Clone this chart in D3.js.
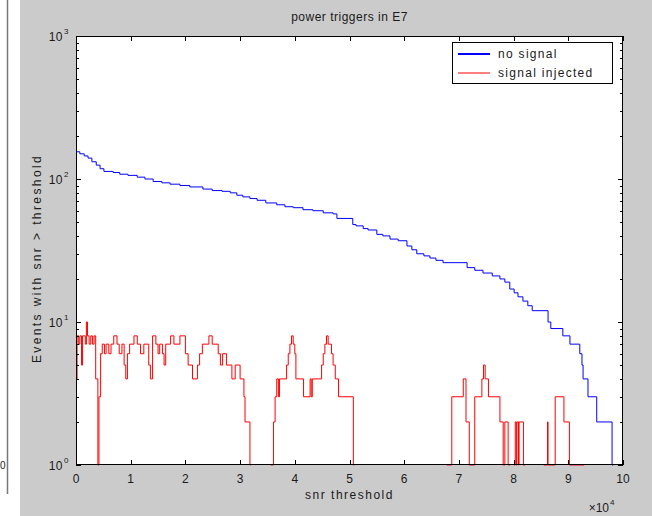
<!DOCTYPE html>
<html>
<head>
<meta charset="utf-8">
<script src="https://cdn.jsdelivr.net/npm/d3@7"></script>
<style>
  html, body { margin: 0; padding: 0; background: #ffffff; }
  svg { display: block; }
  text { font-family: "Liberation Sans", Arial, Helvetica, sans-serif; fill: #1a1a1a; }
</style>
</head>
<body>
<svg id="chart" width="652" height="516"></svg>
<script>
// Threshold edges (units of 1e4) and counts for the "no signal" staircase
const blueEdges = [0, 0.07, 0.15, 0.22, 0.29, 0.37, 0.44, 0.51, 0.68, 0.80, 0.95, 1.12, 1.26, 1.41, 1.57, 1.72, 1.90, 2.08, 2.32, 2.49, 2.67, 2.82, 2.94, 3.05, 3.18, 3.31, 3.47, 3.67, 3.82, 3.97, 4.15, 4.33, 4.52, 4.70, 4.77, 5.06, 5.12, 5.25, 5.34, 5.50, 5.61, 5.74, 5.89, 6.05, 6.14, 6.23, 6.36, 6.47, 6.58, 6.71, 7.15, 7.29, 7.44, 7.61, 7.75, 7.84, 7.93, 8.01, 8.08, 8.17, 8.26, 8.34, 8.63, 8.68, 8.90, 9.03, 9.21, 9.25, 9.27, 9.36, 9.52, 9.80, 9.82];
const blueCounts = [155, 150, 145, 140, 132, 125, 118, 113, 111, 108, 106, 103, 100, 96, 94, 92, 90, 88, 85, 83, 82, 80, 77, 75, 73, 71, 68, 66, 64, 63, 61, 60, 58, 57, 53, 48, 47, 45, 44, 41, 40, 38, 37, 34, 32, 30, 29, 28, 27, 26, 24, 23, 22, 21, 20, 19, 17, 16, 15, 14, 13, 12, 10, 9, 8, 7, 6, 5, 4, 3, 2, 1];

// Threshold edges and counts for the "signal injected" staircase (0 = no events, not drawn)
const redEdges = [0.00, 0.02, 0.05, 0.07, 0.10, 0.12, 0.17, 0.19, 0.21, 0.24, 0.27, 0.30, 0.33, 0.36, 0.40, 0.42, 0.45, 0.48, 0.52, 0.55, 0.60, 0.64, 0.69, 0.75, 0.79, 0.84, 0.88, 0.91, 0.94, 0.98, 1.06, 1.12, 1.18, 1.24, 1.33, 1.36, 1.40, 1.46, 1.50, 1.53, 1.58, 1.61, 1.64, 1.73, 1.79, 1.90, 2.00, 2.05, 2.13, 2.22, 2.26, 2.31, 2.43, 2.49, 2.60, 2.64, 2.68, 2.75, 2.85, 2.91, 3.00, 3.07, 3.09, 3.18, 3.20, 3.56, 3.61, 3.64, 3.67, 3.70, 3.72, 3.85, 3.88, 3.91, 3.94, 3.97, 4.00, 4.02, 4.16, 4.28, 4.30, 4.32, 4.49, 4.52, 4.55, 4.58, 4.61, 4.67, 4.70, 4.74, 4.80, 5.07, 5.09, 6.78, 6.87, 7.08, 7.13, 7.19, 7.29, 7.42, 7.45, 7.48, 7.54, 7.75, 7.81, 7.84, 7.90, 7.93, 8.01, 8.03, 8.05, 8.06, 8.09, 8.10, 8.18, 8.21, 8.55, 8.62, 8.63, 8.76, 8.92, 9.02, 9.29, 10.0];
const redCounts = [4, 8, 7, 8, 5, 8, 7, 10, 8, 7, 8, 7, 8, 4, 1, 3, 6, 7, 6, 7, 6, 7, 8, 7, 6, 7, 5, 4, 6, 7, 8, 7, 6, 7, 5, 4, 8, 7, 6, 7, 6, 5, 7, 8, 7, 8, 6, 5, 4, 5, 6, 7, 8, 7, 6, 5, 6, 5, 4, 5, 4, 3, 2, 1, 0, 1, 2, 3, 4, 3, 4, 5, 6, 7, 8, 7, 6, 4, 3, 4, 3, 4, 5, 6, 7, 8, 7, 6, 5, 4, 3, 1, 0, 1, 3, 4, 2, 1, 3, 4, 5, 4, 3, 2, 1, 2, 1, 0, 1, 2, 1, 2, 1, 2, 1, 0, 1, 2, 1, 3, 2, 1, 0];

const xTicks = [0, 1, 2, 3, 4, 5, 6, 7, 8, 9, 10];
const yDecades = [0, 1, 2, 3];
const seriesNames = ["no signal", "signal injected"];
const seriesColors = ["#0000ff", "#ff0000"];
const titleText = "power triggers in E7";
const xLabelText = "snr threshold";
const yLabelText = "Events with snr > threshold";

const svg = d3.select("#chart");

// Neighbouring panel edge on the far left
svg.append("rect").attr("x", 0).attr("y", 0).attr("width", 20).attr("height", 516).attr("fill", "#ffffff");
svg.append("line").attr("x1", 7.5).attr("x2", 7.5).attr("y1", 0).attr("y2", 494)
  .attr("stroke", "#777").attr("stroke-width", 1.5);
svg.append("text").attr("x", 0).attr("y", 469).attr("font-size", 10).text("0");

// Figure background
svg.append("rect").attr("x", 20).attr("y", 0).attr("width", 632).attr("height", 516).attr("fill", "#cbcbcb");

const plotLeft = 76, plotRight = 623, plotTop = 36, plotBottom = 465;
const x = d3.scaleLinear().domain([0, 10]).range([plotLeft, plotRight]);
const y = d3.scaleLog().domain([1, 1000]).range([plotBottom, plotTop]);

// Axes area
svg.append("rect").attr("x", plotLeft).attr("y", plotTop)
  .attr("width", plotRight - plotLeft).attr("height", plotBottom - plotTop)
  .attr("fill", "#ffffff");

svg.append("defs").append("clipPath").attr("id", "plotClip")
  .append("rect").attr("x", plotLeft).attr("y", plotTop - 1)
  .attr("width", plotRight - plotLeft).attr("height", plotBottom - plotTop + 2);

// Expand edges/counts into staircase vertices
function stairs(edges, counts) {
  const pts = [];
  for (let i = 0; i < counts.length; i++) {
    pts.push({ s: edges[i], v: counts[i] });
    pts.push({ s: edges[i + 1], v: counts[i] });
  }
  return pts;
}

const line = d3.line()
  .defined(d => d.v > 0)
  .x(d => x(d.s))
  .y(d => y(d.v));

const plot = svg.append("g").attr("clip-path", "url(#plotClip)");

// Frame and ticks
const axisG = svg.append("g").attr("stroke", "#000").attr("stroke-width", 1);
axisG.append("rect").attr("x", plotLeft + 0.5).attr("y", plotTop + 0.5)
  .attr("width", plotRight - plotLeft - 1).attr("height", plotBottom - plotTop - 1).attr("fill", "none");

const majorLen = 5, minorLen = 3;
xTicks.forEach(t => {
  const px = Math.round(x(t)) + 0.5;
  axisG.append("line").attr("x1", px).attr("x2", px).attr("y1", plotBottom).attr("y2", plotBottom - majorLen);
  axisG.append("line").attr("x1", px).attr("x2", px).attr("y1", plotTop).attr("y2", plotTop + majorLen);
});
yDecades.forEach(e => {
  const py = Math.round(y(Math.pow(10, e))) + 0.5;
  axisG.append("line").attr("x1", plotLeft).attr("x2", plotLeft + majorLen).attr("y1", py).attr("y2", py);
  axisG.append("line").attr("x1", plotRight).attr("x2", plotRight - majorLen).attr("y1", py).attr("y2", py);
  if (e < 3) {
    for (let m = 2; m <= 9; m++) {
      const my = Math.round(y(m * Math.pow(10, e))) + 0.5;
      axisG.append("line").attr("x1", plotLeft).attr("x2", plotLeft + minorLen).attr("y1", my).attr("y2", my);
      axisG.append("line").attr("x1", plotRight).attr("x2", plotRight - minorLen).attr("y1", my).attr("y2", my);
    }
  }
});

// Series
plot.append("path").attr("d", line(stairs(blueEdges, blueCounts)))
  .attr("fill", "none").attr("stroke", seriesColors[0]).attr("stroke-width", 1);
plot.append("path").attr("d", line(stairs(redEdges, redCounts)))
  .attr("fill", "none").attr("stroke", seriesColors[1]).attr("stroke-width", 1);

// Tick labels
xTicks.forEach(t => {
  svg.append("text").attr("x", x(t)).attr("y", 483).attr("text-anchor", "middle")
    .attr("font-size", 12).text(t);
});
yDecades.forEach(e => {
  const py = y(Math.pow(10, e));
  svg.append("text").attr("x", 63).attr("y", py + 5).attr("text-anchor", "end")
    .attr("font-size", 12).attr("letter-spacing", 0.5).text("10");
  svg.append("text").attr("x", 64).attr("y", py - 2).attr("font-size", 8).text(e);
});

// Exponent marker for the x axis
svg.append("text").attr("x", 609).attr("y", 512).attr("text-anchor", "end").attr("font-size", 12).text("×10");
svg.append("text").attr("x", 610).attr("y", 505).attr("font-size", 8).text("4");

// Title and axis labels
svg.append("text").attr("x", (plotLeft + plotRight) / 2).attr("y", 21).attr("text-anchor", "middle")
  .attr("font-size", 12).attr("letter-spacing", 0.5).text(titleText);
svg.append("text").attr("x", (plotLeft + plotRight) / 2).attr("y", 499).attr("text-anchor", "middle")
  .attr("font-size", 12).attr("letter-spacing", 1.5).text(xLabelText);
svg.append("text").attr("transform", `translate(41, ${(plotTop + plotBottom) / 2 + 8}) rotate(-90)`)
  .attr("text-anchor", "middle").attr("font-size", 12).attr("letter-spacing", 2.4).text(yLabelText);

// Legend
const lg = svg.append("g");
lg.append("rect").attr("x", 452.5).attr("y", 42.5).attr("width", 160).attr("height", 41)
  .attr("fill", "#ffffff").attr("stroke", "#000").attr("stroke-width", 1);
seriesNames.forEach((name, i) => {
  const ly = 54 + i * 19;
  lg.append("line").attr("x1", 458).attr("x2", 490).attr("y1", ly).attr("y2", ly)
    .attr("stroke", seriesColors[i]).attr("stroke-width", i === 0 ? 2 : 1);
  lg.append("text").attr("x", 498).attr("y", ly + 4).attr("font-size", 12)
    .attr("letter-spacing", 1.3).text(name);
});
</script>
</body>
</html>
